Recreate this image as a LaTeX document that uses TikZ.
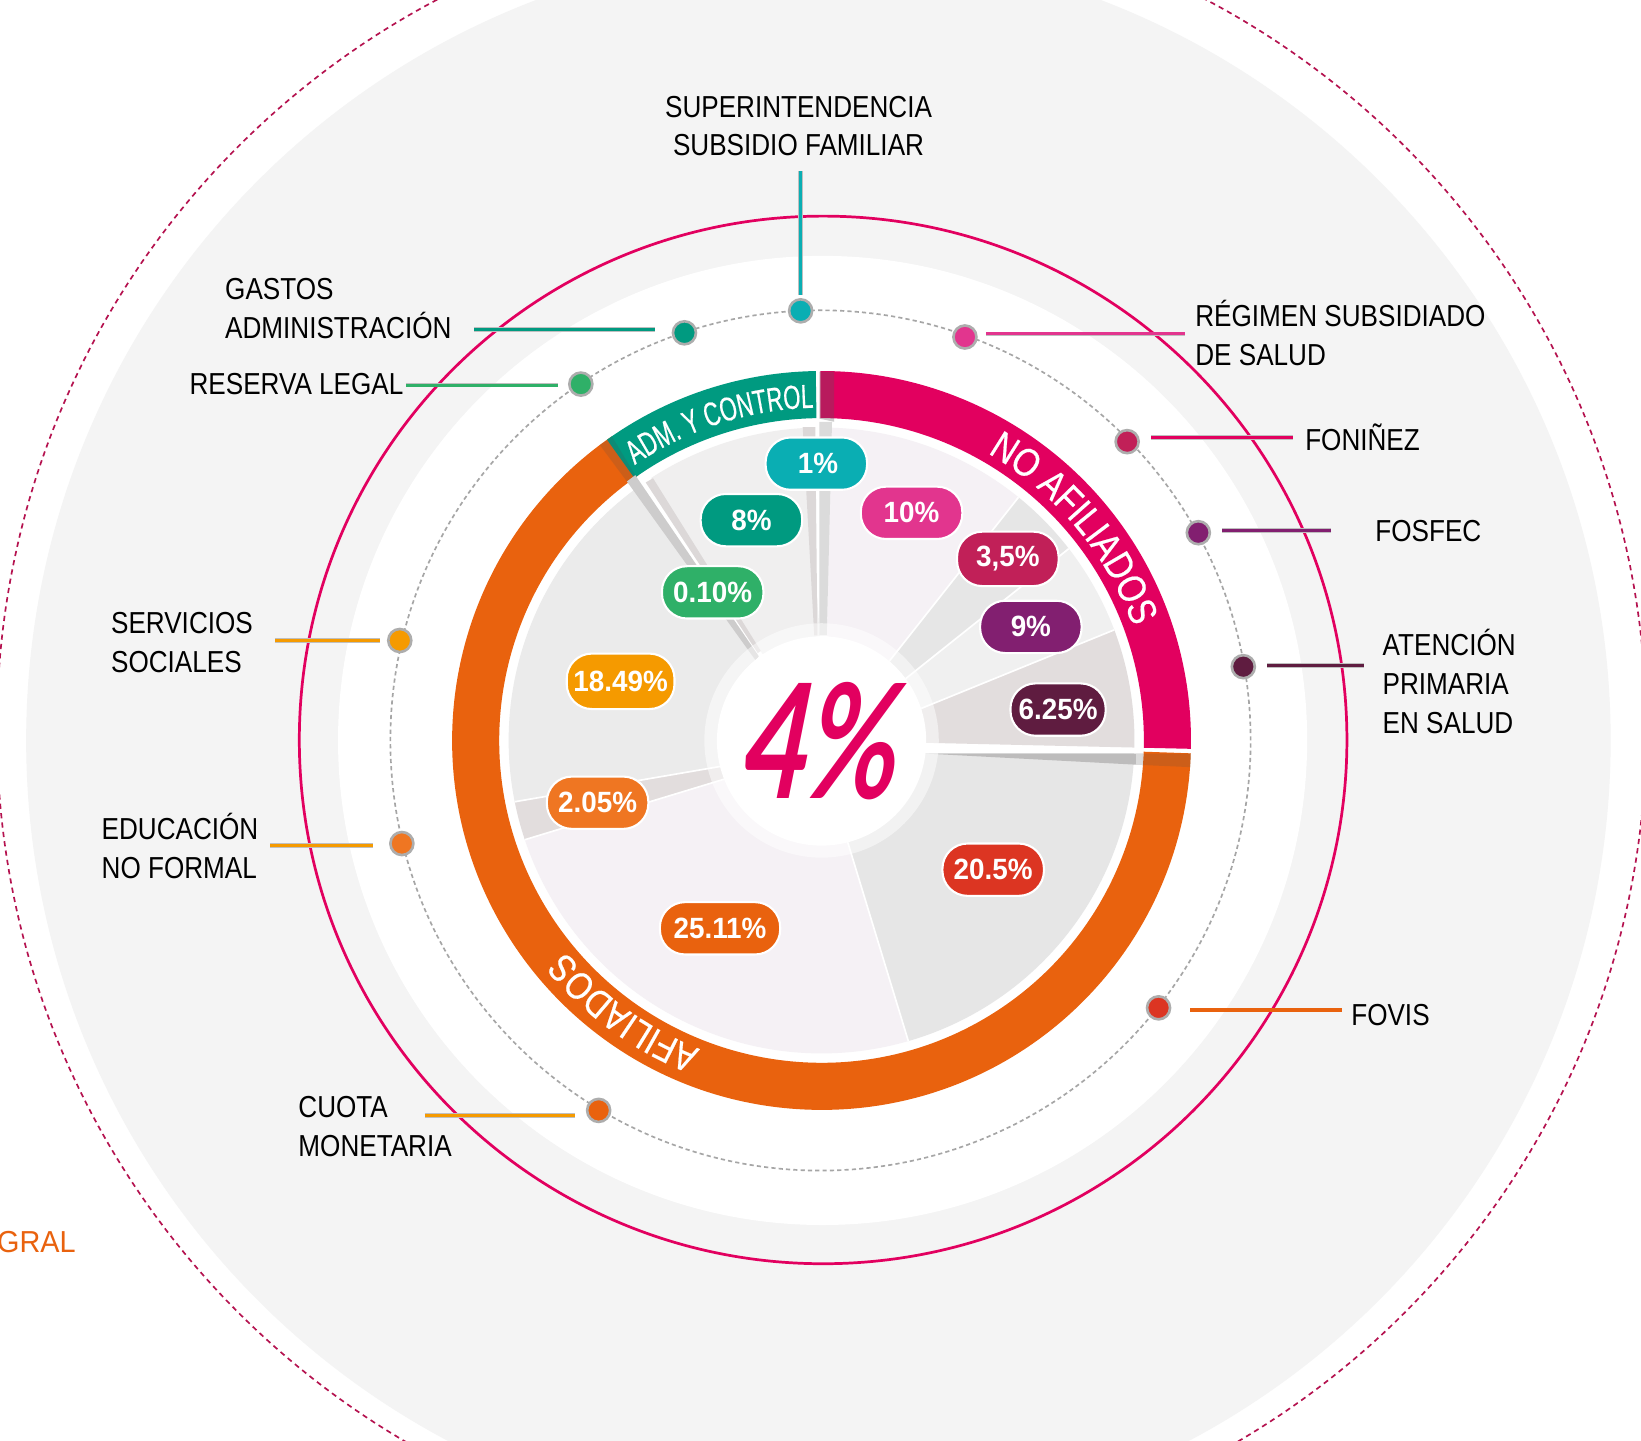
\documentclass[tikz,border=0pt]{standalone}
\usepackage{fontspec}
\usetikzlibrary{decorations.text,calc}
\setmainfont{Liberation Sans}[FakeStretch=0.86]
\newfontfamily\ringfam{Liberation Sans}[FakeStretch=0.83,FakeBold=0.5]
\newfontfamily\admfam{Liberation Sans}[FakeStretch=0.66,FakeBold=0.5]
\newfontfamily\pillfam{Liberation Sans}[FakeStretch=0.95]
\newfontfamily\gralfam{Liberation Sans}[FakeStretch=0.95]
\newfontfamily\bigfam{Lato}[FakeStretch=0.7,FakeSlant=0.2]
\definecolor{cpink}{HTML}{E2005F}
\definecolor{corange}{HTML}{E9620E}
\definecolor{cteal}{HTML}{009A80}
\definecolor{ccyan}{HTML}{0AAEB3}
\definecolor{cgreen}{HTML}{2FB068}
\definecolor{cmag}{HTML}{E2358E}
\definecolor{ccrim}{HTML}{C12058}
\definecolor{cpurp}{HTML}{821F70}
\definecolor{cwine}{HTML}{5F1C40}
\definecolor{cred}{HTML}{DC3522}
\definecolor{camber}{HTML}{F59A00}
\definecolor{corl}{HTML}{EF7622}
\definecolor{cbg}{HTML}{F4F4F4}
\definecolor{cdash}{HTML}{B5124F}
\definecolor{secA}{HTML}{F5F1F5}
\definecolor{secB}{HTML}{E6E6E6}
\definecolor{secC}{HTML}{F0F0F0}
\definecolor{secD}{HTML}{E2DDDD}
\definecolor{secE}{HTML}{EBEBEB}
\definecolor{secF}{HTML}{F0EFEF}
\definecolor{secG}{HTML}{DCD8D8}
\definecolor{secH}{HTML}{CDCCCC}
\newcommand\pieslice[5]{\fill[#1] (#2:100pt) -- (#3:299pt) arc[start angle=#3,end angle=#4,radius=299pt] -- (#5:100pt) -- cycle;}
\newcommand\ringpart[3]{\fill[#1] (#2:353pt) arc[start angle=#2,end angle=#3,radius=353pt] -- (#3:308pt) arc[start angle=#3,end angle=#2,radius=308pt] -- cycle;}
\tikzset{
  x=1pt,y=1pt,
  lab/.style={inner sep=0pt,align=left,anchor=west,text=black,font=\fontsize{29}{37}\selectfont},
  labc/.style={inner sep=0pt,align=center,text=black,font=\fontsize{29}{37}\selectfont},
  dot/.style={circle,draw=black!32,inner sep=0pt,minimum size=22pt,line width=2.5pt},
  leader/.style={draw=black!25,double=#1,double distance=3pt,line width=.6pt},
  pill/.style={rectangle,rounded corners=24pt,draw=white,line width=2pt,text=white,inner sep=0pt,minimum height=50pt,minimum width=97pt,font=\pillfam\fontsize{28}{30}\selectfont\bfseries},
  gapline/.style={draw=white,line width=1.6pt},
}
\begin{document}
\begin{tikzpicture}
\useasboundingbox (0,0) rectangle (1568,-1376);
\clip (0,0) rectangle (1568,-1376);
\fill[white] (0,0) rectangle (1568,-1376);
\draw[cdash,line width=1.6pt,dash pattern=on 5pt off 4pt] (785,-697) circle[radius=788pt];
\fill[cbg] (782,-707.5) circle[radius=757pt];
\fill[white] (786,-707.5) circle[radius=463pt];
\draw[cpink,line width=2.6pt] (786.5,-707) circle[radius=500.5pt];
\draw[black!35,line width=1.6pt,dash pattern=on 4pt off 3pt] (784,-707.5) circle[radius=411pt];

\begin{scope}[shift={(785,-707.5)}]
  % pie sectors
  \pieslice{secF}{124.3}{123}{93}{91}
  \pieslice{secE}{-165.6}{-168.7}{-234.4}{-230.5}
  \pieslice{secD}{-158.3}{-161.5}{-168.7}{-165.6}
  \pieslice{secA}{-75.6}{-73.9}{-161.5}{-158.3}
  \pieslice{secB}{-7}{-2.3}{-73.9}{-75.6}
  \pieslice{secD}{17.8}{20.7}{-1.3}{-1.3}
  \pieslice{secC}{36.3}{37.8}{20.7}{17.8}
  \pieslice{secB}{49.5}{51}{37.8}{36.3}
  \pieslice{secA}{87}{88.5}{51}{49.5}
  % ring
  \ringpart{corange}{-2}{-235.4}
  \ringpart{cteal}{125.5}{90.9}
  \ringpart{cpink}{90.2}{-1.3}
\end{scope}

% thin wedges
\fill[secG] (767,-408) -- (779,-408) -- (781,-607) -- (778,-607) -- cycle;
\fill[black!14] (783,-403) -- (795,-403) -- (790,-607) -- (783,-607) -- cycle;
\fill[secG] (617,-461) -- (624,-457) -- (727,-622) -- (724,-624) -- cycle;
\fill[secH] (599,-460) -- (607,-454) -- (725,-627) -- (722,-631) -- cycle;
\fill[secH!92!black] (884,-720) -- (1092,-720) -- (1092,-731) -- cycle;
\fill[black!14] (1085,-720) -- (1092,-720) -- (1092,-731) -- (1085,-731) -- cycle;
% overlays on the ring
\fill[black!65,opacity=.3] (783,-355) -- (797,-355.2) -- (797,-403) -- (783,-400) -- cycle;
\fill[black!70,opacity=.18] (573,-425) -- (585,-417.5) -- (607,-454) -- (599,-460) -- cycle;
\fill[black!70,opacity=.18] (1092,-720) -- (1138,-720) -- (1137.5,-733) -- (1092,-731) -- cycle;

% white separators
\begin{scope}[shift={(785,-707.5)}]
  \draw[gapline] (49.5:100pt) -- (51:299pt);
  \draw[gapline] (36.3:100pt) -- (37.8:299pt);
  \draw[gapline] (17.8:100pt) -- (20.7:299pt);
  \draw[gapline] (-75.6:100pt) -- (-73.9:299pt);
  \draw[gapline] (-158.3:100pt) -- (-161.5:299pt);
  \draw[gapline] (-165.6:100pt) -- (-168.7:299pt);
  \fill[white,opacity=.5] (0,0) circle[radius=112pt];
  \path[decorate,decoration={text along path,text align=center,
    text={|\ringfam\fontsize{38}{40}\selectfont\color{white}|NO AFILIADOS}}]
    (63:317pt) arc[start angle=63,end angle=17,radius=317pt];
  \path[decorate,decoration={text along path,text align=center,
    text={|\admfam\fontsize{32}{34}\selectfont\color{white}|ADM. Y CONTROL}}]
    (125:318pt) arc[start angle=125,end angle=90.5,radius=318pt];
  \path[decorate,decoration={text along path,text align=center,
    text={|\ringfam\fontsize{37}{40}\selectfont\color{white}|AFILIADOS}}]
    (-105.5:317pt) arc[start angle=-105.5,end angle=-146.5,radius=317pt];
\end{scope}

\node[circle,fill=white,minimum size=200pt,inner sep=0pt] (centre) at (785,-708) {};
\node[inner sep=0pt,text=cpink,font=\bigfam\fontsize{152}{160}\selectfont\bfseries] (bigpct) at (779,-708) {4\%};

% pills
\node[pill,fill=ccyan] (p1) at (780,-443) {\raisebox{-1.5pt}{\hspace{3pt}1\%}};
\node[pill,fill=cteal] (p8) at (718,-497) {8\%};
\node[pill,fill=cmag] (p10) at (871,-490) {10\%};
\node[pill,fill=ccrim,minimum height=52pt] (p35) at (963,-534) {3,5\%};
\node[pill,fill=cpurp] (p9) at (985,-599) {9\%};
\node[pill,fill=cgreen] (p010) at (681,-566) {0.10\%};
\node[pill,fill=camber,minimum width=103pt,minimum height=53pt] (p1849) at (593,-651) {18.49\%};
\node[pill,fill=cwine,minimum width=91pt] (p625) at (1011,-678) {6.25\%};
\node[pill,fill=corl] (p205) at (571,-767) {2.05\%};
\node[pill,fill=cred] (p205b) at (949,-831) {20.5\%};
\node[pill,fill=corange,minimum width=115pt] (p2511) at (688,-887) {25.11\%};

% dots
\node[dot,fill=ccyan] (dSuper) at (765,-297) {};
\node[dot,fill=cteal] (dGastos) at (654,-318) {};
\node[dot,fill=cgreen] (dReserva) at (555,-367) {};
\node[dot,fill=cmag] (dRegimen) at (922,-322) {};
\node[dot,fill=ccrim] (dFoninez) at (1077,-422) {};
\node[dot,fill=cpurp] (dFosfec) at (1145,-509) {};
\node[dot,fill=cwine] (dAtencion) at (1188,-637) {};
\node[dot,fill=cred] (dFovis) at (1107,-963) {};
\node[dot,fill=corange] (dCuota) at (572,-1061) {};
\node[dot,fill=corl] (dEduc) at (384,-806) {};
\node[dot,fill=camber] (dServ) at (382,-612) {};

% leader ends
\coordinate (eSuper) at (765,-163);
\coordinate (eGastos) at (453,-315);
\coordinate (eReserva) at (388,-368);
\coordinate (eRegimen) at (1132,-319);
\coordinate (eFoninez) at (1235,-418);
\coordinate (eFosfec) at (1272,-507);
\coordinate (eAtencion) at (1303,-636);
\coordinate (eFovis) at (1282,-965);
\coordinate (eCuota) at (406,-1066);
\coordinate (eEduc) at (258,-808);
\coordinate (eServ) at (263,-612);

\draw[leader=ccyan,shorten <=3pt] (dSuper.north) -- (eSuper);
\draw[leader=cteal,shorten >=16pt] (eGastos) -- (eGastos -| dGastos.west);
\draw[leader=cgreen,shorten >=10pt] (eReserva) -- (eReserva -| dReserva.west);
\draw[leader=cmag,shorten >=8pt] (eRegimen) -- (eRegimen -| dRegimen.east);
\draw[leader=cpink,shorten >=11pt] (eFoninez) -- (eFoninez -| dFoninez.east);
\draw[leader=cpurp,shorten >=10pt] (eFosfec) -- (eFosfec -| dFosfec.east);
\draw[leader=cwine,shorten >=10pt] (eAtencion) -- (eAtencion -| dAtencion.east);
\draw[leader=corange,shorten >=18pt] (eFovis) -- (eFovis -| dFovis.east);
\draw[leader=camber,shorten >=10pt] (eCuota) -- (eCuota -| dCuota.west);
\draw[leader=camber,shorten >=15pt] (eEduc) -- (eEduc -| dEduc.west);
\draw[leader=camber,shorten >=7pt] (eServ) -- (eServ -| dServ.west);

% labels
\node[labc] (tSuper) at (763,-120.5) {SUPERINTENDENCIA\\SUBSIDIO FAMILIAR};
\node[lab] (tGastos) at (215,-295) {GASTOS\\ADMINISTRACIÓN};
\node[lab] (tReserva) at (181,-367) {RESERVA LEGAL};
\node[lab] (tRegimen) at (1142,-318) {RÉGIMEN SUBSIDIADO\\DE SALUD};
\node[lab] (tFoninez) at (1247,-418) {FONIÑEZ};
\node[lab] (tFosfec) at (1314,-507) {FOSFEC};
\node[lab] (tAtencion) at (1321,-651) {ATENCIÓN\\PRIMARIA\\EN SALUD};
\node[lab] (tFovis) at (1291,-970) {FOVIS};
\node[lab] (tCuota) at (285,-1076.5) {CUOTA\\MONETARIA};
\node[lab] (tEduc) at (97,-808.5) {EDUCACIÓN\\NO FORMAL};
\node[lab] (tServ) at (106,-614) {SERVICIOS\\SOCIALES};
\node[lab,text=corange,font=\gralfam\fontsize{29}{37}\selectfont] (tGral) at (-3,-1187) {GRAL};
\end{tikzpicture}
\end{document}
